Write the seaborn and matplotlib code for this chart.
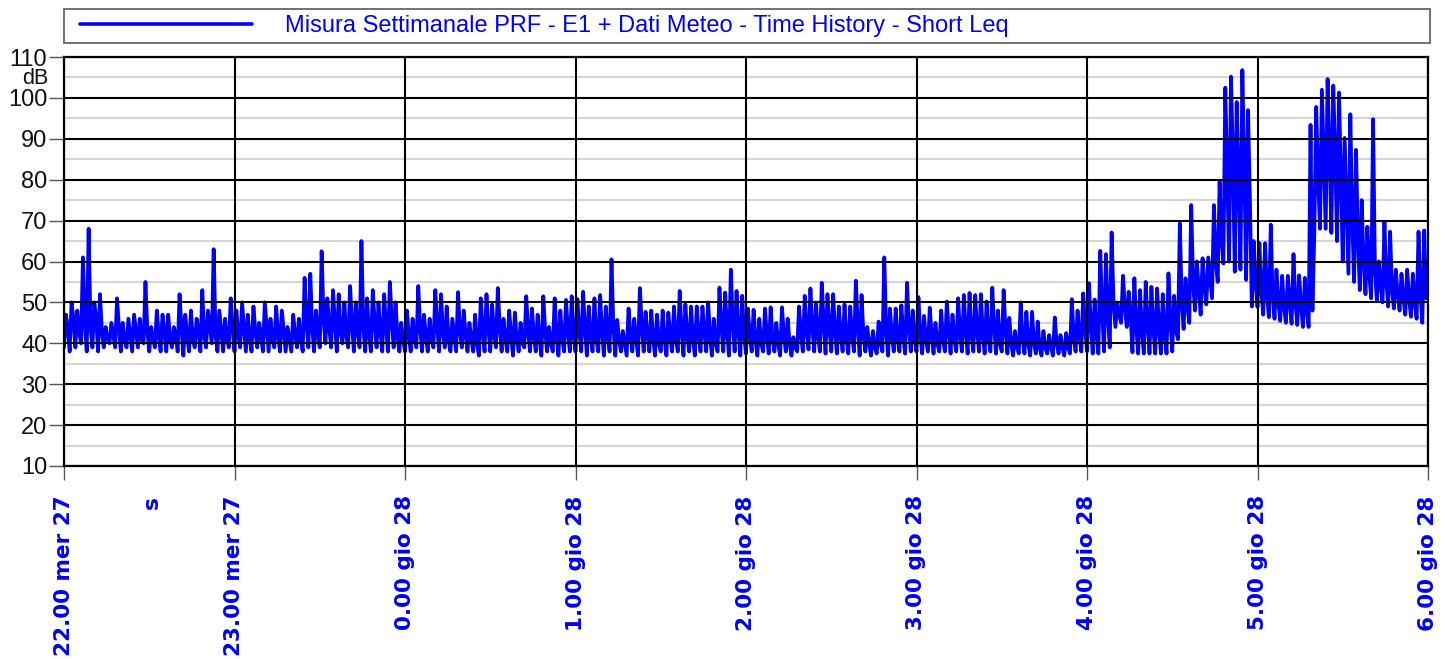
"""Weekly noise measurement: Short Leq time history, 22:00 to 6:00."""

import matplotlib

matplotlib.use("Agg")
import matplotlib.pyplot as plt
import pandas as pd
import seaborn as sns
from matplotlib.patches import Rectangle
from matplotlib.ticker import FixedLocator


SERIES_LABEL = "Misura Settimanale PRF - E1 + Dati Meteo - Time History - Short Leq"
HOUR_LABELS = [
    "22.00 mer 27",
    "23.00 mer 27",
    "0.00 gio 28",
    "1.00 gio 28",
    "2.00 gio 28",
    "3.00 gio 28",
    "4.00 gio 28",
    "5.00 gio 28",
    "6.00 gio 28",
]
HOUR_MINUTES = [0, 60, 120, 180, 240, 300, 360, 420, 480]
DB_TICKS = [10, 20, 30, 40, 50, 60, 70, 80, 90, 100, 110]
DB_HALF_TICKS = [15, 25, 35, 45, 55, 65, 75, 85, 95, 105]
BIN_MINUTES = 2

# Lowest short Leq in each 2-minute bin (dB)
floor_db = [
    39, 38, 39, 40, 38, 39, 38, 39, 40, 39,
    38, 39, 38, 39, 40, 38, 39, 38, 38, 39,
    38, 37, 38, 39, 38, 39, 40, 38, 38, 39,
    38, 39, 38, 38, 39, 38, 38, 39, 38, 38,
    38, 39, 38, 39, 38, 39, 40, 39, 38, 40,
    39, 38, 39, 38, 38, 39, 38, 38, 39, 38,
    38, 38, 39, 38, 38, 39, 38, 39, 38, 38,
    39, 38, 38, 37, 38, 38, 39, 38, 38, 37,
    38, 39, 38, 38, 37, 38, 38, 37, 38, 38,
    38, 38, 37, 38, 38, 37, 38, 37, 38, 37,
    38, 37, 38, 38, 37, 38, 37, 38, 38, 37,
    38, 37, 38, 38, 37, 38, 38, 37, 38, 37,
    37.5, 38, 37, 38, 37.5, 38, 37, 38, 37, 38,
    38, 38.5, 38, 38, 37.5, 38, 37.5, 38, 37.5, 38,
    37, 38, 37, 37.5, 38, 37, 38, 38, 37.5, 38,
    38, 37.5, 38, 37.5, 38, 38, 37.5, 38, 38, 37.5,
    38, 38, 37.5, 38, 37.5, 38, 37.5, 37, 37.5, 37.5,
    37, 37.5, 37, 37.5, 37, 37.5, 37, 37.5, 38, 38,
    38, 37.5, 37.5, 38, 39, 44, 45, 44, 37.8, 37.5,
    37.5, 37.5, 37.5, 37.5, 37.5, 38, 41, 43.5, 45, 48,
    47, 49.5, 51, 55, 59.5, 60, 57.5, 58, 55.5, 49,
    48.9, 47, 46.4, 46, 45.5, 45, 44.8, 44.5, 44, 44,
    67, 68, 68, 67, 65, 60, 57, 55, 53, 52,
    51, 50.5, 50, 49, 48.5, 48, 47, 46.5, 46, 45,
]

# Highest short Leq in each 2-minute bin (dB)
peak_db = [
    47, 50, 48, 61, 68, 50, 52, 44, 45, 51,
    45, 46, 47, 46, 55, 44, 48, 47, 47, 44,
    52, 47, 48, 46, 53, 48, 63, 48, 46, 51,
    48, 50, 47, 49, 45, 50, 46, 49, 48, 44,
    47, 46, 56, 57, 48, 62.5, 51, 53, 52, 50,
    54, 50, 65, 51, 53, 50, 52, 55, 50, 45,
    48, 46, 54, 47, 46, 53, 52, 49, 46, 52.5,
    48, 45, 47, 51, 52, 49.5, 53.5, 46, 48, 47.5,
    45, 51.5, 48.5, 47, 51.5, 44, 51, 48, 50.6, 51.5,
    50.8, 52.6, 49, 51, 51.8, 49, 60.5, 45.7, 43, 48.5,
    46, 53.5, 47.7, 48, 47, 48, 47.5, 49, 52.8, 49.5,
    49, 49, 49, 50, 46, 53.6, 52.4, 58, 52.8, 51.6,
    48.5, 48.2, 46, 48.5, 48.8, 45, 48.8, 46, 41.5, 49,
    51.6, 53.4, 50, 54.8, 52, 52, 49, 49.5, 49, 55.3,
    51.8, 44, 43, 45.3, 61, 48.5, 48.5, 49.3, 54.8, 48,
    51.3, 46.7, 48.7, 45, 48, 50.2, 47, 51, 51.8, 52.3,
    51.8, 52, 50.2, 53.6, 48, 53, 46.2, 43, 50, 47.7,
    47.7, 45.3, 43, 42, 46.3, 42, 42.5, 50.8, 48, 52.2,
    54.7, 50.7, 62.6, 61.8, 67.1, 50, 56.5, 52.6, 55.9, 53,
    55, 53.8, 53.4, 52, 57.1, 51.6, 69.3, 55.9, 73.8, 60,
    60.8, 61, 73.8, 79.5, 102.5, 105.2, 99, 106.8, 97, 65,
    64.5, 64.5, 69, 58, 56.5, 56.5, 61.8, 56.6, 56, 93.4,
    97.8, 102, 104.6, 103, 101.3, 90.2, 96, 87.3, 75, 68.5,
    94.8, 60, 69.7, 67.3, 58, 57, 58, 57, 67.3, 67.6,
]

# Level the trace settles back to at the end of each bin (dB)
settle_db = [
    44, 46, 43, 45, 44, 46, 43, 41, 42, 44,
    41, 42, 43, 41, 43, 41, 42, 43, 41, 42,
    44, 42, 41, 43, 42, 44, 42, 43, 41, 44,
    42, 44, 41, 43, 42, 44, 41, 42, 43, 41,
    42, 41, 45, 44, 42, 46, 44, 45, 43, 42,
    45, 43, 44, 42, 45, 43, 44, 46, 42, 41,
    42, 41, 44, 42, 41, 44, 43, 41, 42, 43,
    42, 41, 40, 43, 44, 42, 44, 41, 42, 41,
    40, 43, 42, 41, 43, 40, 42, 41, 43, 42,
    43, 44, 42, 41, 43, 42, 44, 41, 40, 42,
    41, 44, 42, 41, 40, 41, 42, 41, 43, 42,
    41, 42, 43, 42, 40, 44, 43, 45, 43, 42,
    42, 41, 40, 42, 41, 40, 42, 40, 39, 42,
    43, 44, 42, 45, 44, 43, 42, 41, 42, 44,
    42, 40, 39, 40, 43, 42, 41, 42, 44, 41,
    42, 41, 42, 40, 41, 43, 41, 42, 43, 42,
    43, 42, 41, 44, 40, 43, 40, 39, 41, 40,
    40, 39, 39, 39, 40, 39, 39, 41, 42, 44,
    45, 42, 48, 47, 50, 47, 49, 47, 44, 43,
    45, 44, 44, 42, 46, 43, 50, 49, 55, 53,
    54, 56, 60, 66, 82, 86, 80, 84, 75, 55,
    53, 52, 51, 50, 49, 50, 50, 49, 48, 48,
    80, 85, 88, 86, 82, 74, 70, 66, 60, 57,
    58, 54, 55, 53, 52, 51, 51, 50, 52, 51,
]


def build_trace() -> pd.DataFrame:
    """Lay floor, peak and settle readings of each bin one after the other in time."""
    minutes = []
    levels = []
    step = BIN_MINUTES / 3
    for i, (low, high, rest) in enumerate(zip(floor_db, peak_db, settle_db)):
        start = i * BIN_MINUTES
        minutes += [start, start + step, start + 2 * step]
        levels += [low, high, rest]
    return pd.DataFrame({"minute": minutes, "leq": levels})


def main() -> None:
    sns.set_theme(style="white")
    plt.rcParams["font.family"] = ["Liberation Sans", "DejaVu Sans"]

    width, height = 1445, 659
    fig = plt.figure(figsize=(width / 100, height / 100), dpi=100)
    left, right, top, bottom = 64, 1428, 57, 466
    ax_rect = [left / width, 1 - bottom / height, (right - left) / width, (bottom - top) / height]
    ax = fig.add_axes(ax_rect)

    sns.lineplot(
        data=build_trace(),
        x="minute",
        y="leq",
        ax=ax,
        color="#0000ff",
        linewidth=2.7,
        estimator=None,
        sort=False,
        label=SERIES_LABEL,
    )

    ax.set_xlim(HOUR_MINUTES[0], HOUR_MINUTES[-1])
    ax.set_ylim(DB_TICKS[0], DB_TICKS[-1])
    ax.xaxis.set_major_locator(FixedLocator(HOUR_MINUTES))
    ax.yaxis.set_major_locator(FixedLocator(DB_TICKS))
    ax.yaxis.set_minor_locator(FixedLocator(DB_HALF_TICKS))
    ax.set_xticklabels(
        HOUR_LABELS, rotation=90, color="#0000ff", fontweight="bold",
        fontfamily="DejaVu Sans", fontsize=15.5, va="top", ha="center",
    )
    ax.set_yticklabels([str(v) for v in DB_TICKS], fontsize=17, color="#111111")
    ax.set_xlabel("")
    ax.set_ylabel("")

    # light half-decade lines under the trace
    ax.set_axisbelow(True)
    ax.grid(which="minor", axis="y", color="#d6d6d6", linewidth=1.5)
    ax.tick_params(axis="y", which="major", direction="out", length=11, width=1,
                   color="#555555", pad=1, left=True)
    ax.tick_params(axis="y", which="minor", length=0)
    ax.tick_params(axis="x", which="major", direction="out", length=10, width=1,
                   color="#555555", pad=11, bottom=True)
    for spine in ax.spines.values():
        spine.set_color("black")
        spine.set_linewidth(1.6)

    # black decade / hour lines drawn over the trace
    ax_grid = fig.add_axes(ax_rect, sharex=ax, sharey=ax)
    ax_grid.set_zorder(ax.get_zorder() + 1)
    ax_grid.patch.set_visible(False)
    ax_grid.grid(which="major", axis="both", color="black", linewidth=1.5)
    ax_grid.tick_params(which="both", length=0, labelbottom=False, labelleft=False)
    for spine in ax_grid.spines.values():
        spine.set_visible(False)

    fig.text(48 / width, 1 - 78.5 / height, "dB", ha="right", va="center",
             fontsize=15.5, color="#111111")
    fig.text(152 / width, 1 - 496 / height, "s", ha="center", va="top", rotation=90,
             fontsize=15.5, fontweight="bold", color="#0000ff", fontfamily="DejaVu Sans")

    # legend row above the plot
    fig.patches.append(Rectangle(
        (64 / width, 1 - 43 / height), (1430 - 64) / width, 34 / height,
        transform=fig.transFigure, fill=False, edgecolor="#666666", linewidth=1.3,
    ))
    legend = ax.legend(
        loc="center left",
        bbox_to_anchor=((80 - left) / (right - left), (bottom - 26) / (bottom - top)),
        borderaxespad=0,
        borderpad=0,
        handlelength=7.3,
        handletextpad=1.4,
        fontsize=17,
        frameon=False,
        labelcolor="#0000ff",
    )
    for line in legend.get_lines():
        line.set_linewidth(2.6)

    fig.savefig("out.png", dpi=100)
    plt.close(fig)


if __name__ == "__main__":
    main()
